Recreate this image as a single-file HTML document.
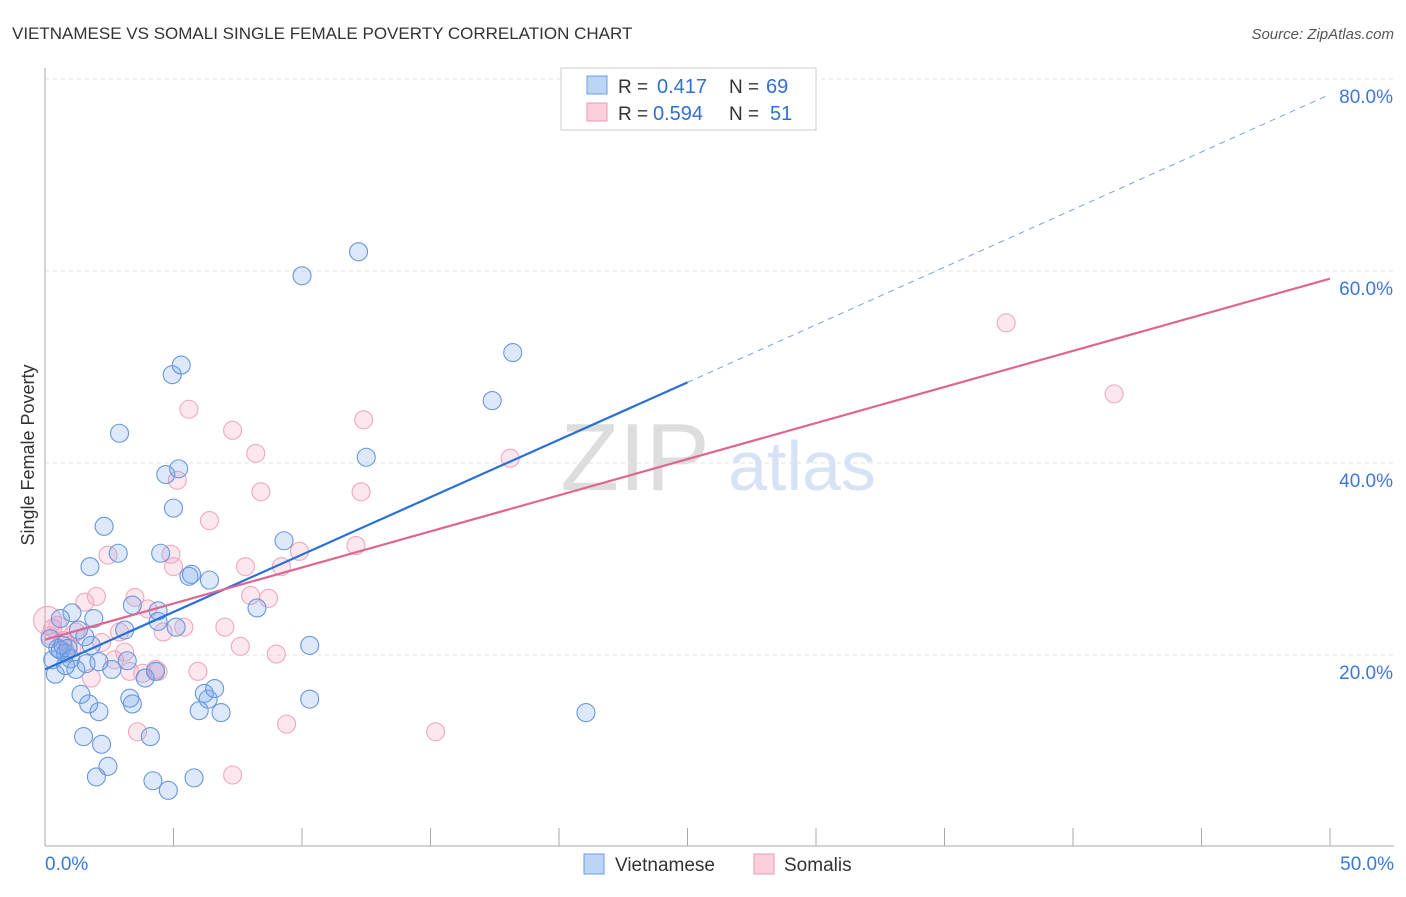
<!DOCTYPE html>
<html><head><meta charset="utf-8"><style>
body{margin:0;background:#fff;font-family:"Liberation Sans",sans-serif;}
svg text{font-family:"Liberation Sans",sans-serif;}
</style></head><body>
<svg id="c" width="1406" height="892">
<text x="12" y="39" font-size="17" fill="#333">VIETNAMESE VS SOMALI SINGLE FEMALE POVERTY CORRELATION CHART</text>
<text x="1394" y="39" font-size="15" fill="#555" font-style="italic" text-anchor="end">Source: ZipAtlas.com</text>
<text x="34" y="455" font-size="18" fill="#333" text-anchor="middle" transform="rotate(-90 34 455)">Single Female Poverty</text>
<text x="635" y="490" font-size="96" fill="#ddd" font-family="Liberation Serif" text-anchor="middle">ZIP</text>
<text x="802" y="490" font-size="70" fill="#d6e2f5" text-anchor="middle">atlas</text>
<g id="grid"></g><g id="pts"></g><g id="lines"></g>
<g>
<rect x="561" y="68" width="255" height="62" fill="#fff" stroke="#ccc"/>
<rect x="587" y="76" width="20" height="18" fill="#bcd4f5" stroke="#6a9be0"/>
<rect x="587" y="103" width="20" height="18" fill="#fbcfdc" stroke="#ee9ab4"/>
<text x="618" y="93" font-size="19" fill="#333">R =</text>
<text x="657" y="93" font-size="20" fill="#2f6fd6">0.417</text>
<text x="729" y="93" font-size="19" fill="#333">N =</text>
<text x="766" y="93" font-size="20" fill="#2f6fd6">69</text>
<text x="618" y="120" font-size="19" fill="#333">R =</text>
<text x="653" y="120" font-size="20" fill="#2f6fd6">0.594</text>
<text x="729" y="120" font-size="19" fill="#333">N =</text>
<text x="770" y="120" font-size="20" fill="#2f6fd6">51</text>
</g>
<g>
<rect x="584" y="854" width="20" height="20" fill="#bcd4f5" stroke="#6a9be0"/>
<text x="615" y="871" font-size="19" fill="#333">Vietnamese</text>
<rect x="754" y="854" width="20" height="20" fill="#fbcfdc" stroke="#ee9ab4"/>
<text x="784" y="871" font-size="19" fill="#333">Somalis</text>
</g>
</svg>
<script>
const yTicks=[20,40,60,80];
const yTickLabels=["20.0%","40.0%","60.0%","80.0%"];
const xTicks=[0,5,10,15,20,25,30,35,40,45,50];
const blueX=[0.3,0.4,0.5,0.6,0.7,0.8,0.9,1.0,1.05,1.2,1.3,1.4,1.5,1.6,1.7,1.75,1.8,1.9,2.0,2.1,2.1,2.2,2.3,2.45,2.6,2.85,2.9,3.1,3.2,3.3,3.4,3.4,3.9,4.1,4.2,4.3,4.4,4.5,4.4,4.7,4.8,4.95,5.0,5.1,5.2,5.3,5.6,5.7,5.8,6.0,6.2,6.35,6.4,6.6,6.85,8.25,9.3,10.0,10.3,10.3,12.2,12.5,17.4,18.2,21.05,0.2,0.6,0.8,1.55];
const blueY=[19.5,18.0,20.7,20.5,21.0,20.2,20.7,19.6,24.4,18.5,22.6,15.9,11.5,19.1,14.9,29.2,21.0,23.8,7.3,14.1,19.3,10.7,33.4,8.4,18.5,30.6,43.1,22.6,19.4,15.5,14.9,25.2,17.6,11.5,6.9,18.3,24.6,30.6,23.5,38.8,5.9,49.2,35.3,22.9,39.4,50.2,28.2,28.4,7.2,14.2,16.0,15.4,27.8,16.5,14.0,24.9,31.9,59.5,21.0,15.4,62.0,40.6,46.5,51.5,14.0,21.7,23.8,18.9,21.9];
const pinkX=[0.1,0.3,0.5,0.7,0.9,1.05,1.2,1.55,1.8,2.0,2.2,2.45,2.7,2.9,3.1,3.3,3.5,3.6,3.8,4.0,4.3,4.4,4.6,4.9,5.0,5.15,5.4,5.6,5.95,6.4,7.0,7.3,7.3,7.6,7.8,8.0,8.2,8.4,8.7,9.0,9.2,9.4,9.9,12.1,12.3,12.4,15.2,18.1,37.4,41.6,0.2];
const pinkY=[23.6,22.8,23.1,21.5,21.0,20.7,22.4,25.5,17.6,26.1,21.3,30.4,19.5,22.4,20.3,18.3,26.0,12.0,18.1,24.8,18.5,18.3,22.4,30.5,29.2,38.2,22.9,45.6,18.3,34.0,22.9,43.4,7.5,20.9,29.2,26.2,41.0,37.0,25.9,20.1,29.2,12.8,30.8,31.4,37.0,44.5,12.0,40.5,54.6,47.2,22.0];
const blueLine=[[0,18.5],[25,48.4]];
const blueDash=[[25,48.4],[50,78.4]];
const pinkLine=[[0,21.6],[50,59.2]];
const X=v=>45+v*25.7, Y=v=>847-v*9.6;
const NS="http://www.w3.org/2000/svg";
function mk(t,a,p){const e=document.createElementNS(NS,t);for(const k in a)e.setAttribute(k,a[k]);p.appendChild(e);return e;}
const g=document.getElementById('grid');
yTicks.forEach((t,i)=>{
 const l=mk('line',{x1:45,x2:1394,y1:Y(t),y2:Y(t),stroke:'#e2e2e2','stroke-dasharray':'4,4'},g);
 
 
 const tx=mk('text',{x:1393,y:Y(t)+24,'font-size':19,fill:'#3a78d8','text-anchor':'end'},g);tx.textContent=yTickLabels[i];
 
 
});
mk('line',{x1:45,x2:45,y1:68,y2:846,stroke:'#aaa'},g);
mk('line',{x1:45,x2:1394,y1:846,y2:846,stroke:'#aaa'},g);
xTicks.forEach(t=>{const l=mk('line',{x1:X(t),x2:X(t),y1:828,y2:846,stroke:'#aaa'},g);
 
 });
let a=mk('text',{x:45,y:870,'font-size':19,fill:'#3a78d8'},g);a.textContent='0.0%';


a=mk('text',{x:1394,y:870,'font-size':19,fill:'#3a78d8','text-anchor':'end'},g);a.textContent='50.0%';


const p=document.getElementById('pts');
pinkX.forEach((x,i)=>{const c=mk('circle',{cx:X(x),cy:Y(pinkY[i]),r:i==0?14:9,fill:'rgba(245,160,190,0.25)',stroke:'#f0a8be','stroke-width':1.1},p);
 
 });
blueX.forEach((x,i)=>{const c=mk('circle',{cx:X(x),cy:Y(blueY[i]),r:9,fill:'rgba(120,165,235,0.25)',stroke:'#6797dd','stroke-width':1.1},p);
 
 });
const L=document.getElementById('lines');
let e=mk('line',{x1:X(blueLine[0][0]),y1:Y(blueLine[0][1]),x2:X(blueLine[1][0]),y2:Y(blueLine[1][1]),stroke:'#2a6fd6','stroke-width':2.2},L);


e=mk('line',{x1:X(blueDash[0][0]),y1:Y(blueDash[0][1]),x2:X(blueDash[1][0]),y2:Y(blueDash[1][1]),stroke:'#7aa3e0','stroke-width':1,'stroke-dasharray':'6,5'},L);


e=mk('line',{x1:X(pinkLine[0][0]),y1:Y(pinkLine[0][1]),x2:X(pinkLine[1][0]),y2:Y(pinkLine[1][1]),stroke:'#e06590','stroke-width':2.2},L);


</script>
</body></html>
